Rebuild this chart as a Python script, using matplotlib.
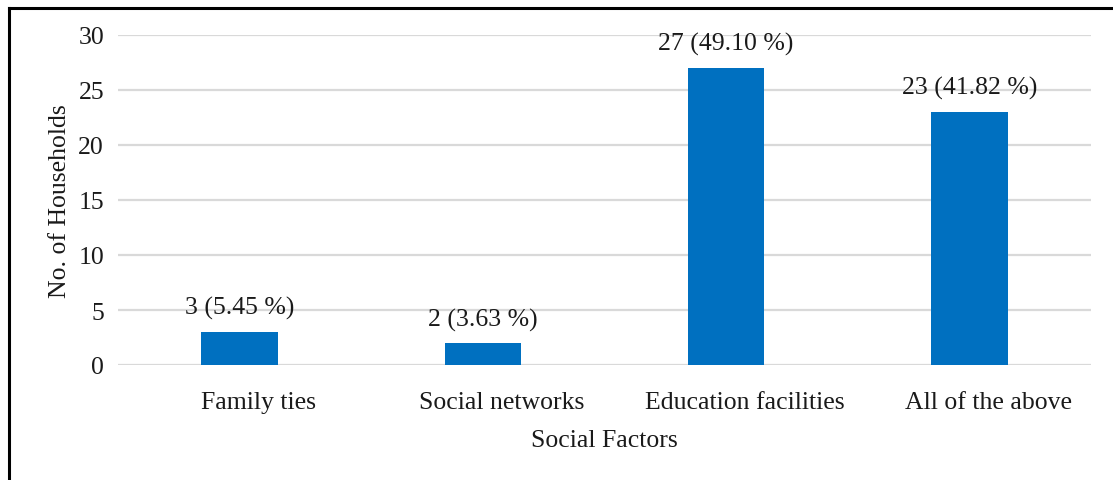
import matplotlib
matplotlib.use("Agg")
import matplotlib.pyplot as plt
import matplotlib.transforms as mtransforms
from matplotlib.lines import Line2D

categories = ["Family ties", "Social networks", "Education facilities", "All of the above"]
counts = [3, 2, 27, 23]
percents = ["5.45", "3.63", "49.10", "41.82"]
yticks = [0, 5, 10, 15, 20, 25, 30]

plt.rcParams['font.family'] = ['Liberation Serif', 'DejaVu Serif']
FS = 18.5

fig = plt.figure(figsize=(11.13, 4.81), dpi=100)
ax = fig.add_axes([118/1113, 1-366/481, (1091-118)/1113, (366-36)/481])

x = list(range(len(categories)))
bars = ax.bar(x, counts, width=0.315, color="#0070C0", zorder=3)
for xi, c, p in zip(x, counts, percents):
    ax.annotate(f"{c} ({p} %)", (xi, c), xytext=(0, 9), textcoords="offset points",
                ha="center", va="bottom", fontsize=FS, color="#1a1a1a")

ax.set_xlim(-0.5, len(categories) - 0.5)
ax.set_ylim(0, 30)
ax.set_yticks(yticks)
ax.set_xticks(x)
ax.set_xticklabels(categories)
ax.tick_params(axis="both", length=0, labelsize=FS, colors="#1a1a1a")
ax.tick_params(axis="y", pad=10)
ax.tick_params(axis="x", pad=19)
offset = mtransforms.ScaledTranslation(19/100, 0, fig.dpi_scale_trans)
for lab in ax.get_xticklabels():
    lab.set_transform(lab.get_transform() + offset)
ax.grid(axis="y", color="#d9d9d9", linewidth=1.6, zorder=0)
for s in ax.spines.values():
    s.set_visible(False)
ax.set_axisbelow(True)
ax.set_ylabel("No. of Households", fontsize=FS, color="#1a1a1a", labelpad=5)
ax.set_xlabel("Social Factors", fontsize=FS, color="#1a1a1a", labelpad=11)

# figure frame (left and top)
fig.add_artist(Line2D([9/1113, 9/1113], [0, 1-9/481], transform=fig.transFigure, color="black", linewidth=2.2))
fig.add_artist(Line2D([9/1113, 1], [1-9/481, 1-9/481], transform=fig.transFigure, color="black", linewidth=2.2))

fig.savefig("out.png", dpi=100)
